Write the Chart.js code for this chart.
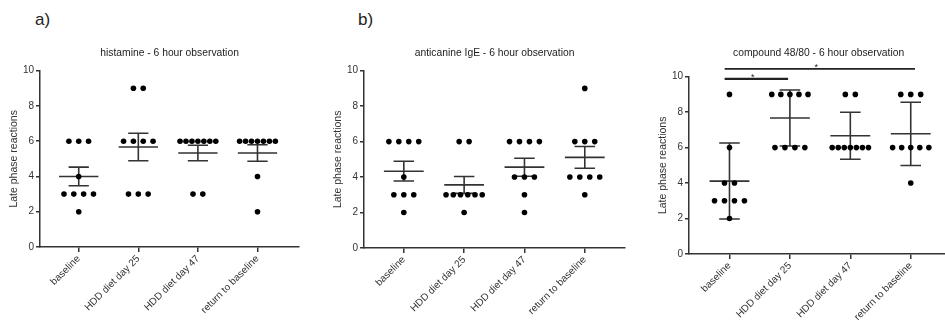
<!DOCTYPE html>
<html><head><meta charset="utf-8">
<script src="https://cdn.jsdelivr.net/npm/chart.js@4.4.1/dist/chart.umd.min.js"></script>
<style>
html,body{margin:0;padding:0;width:945px;height:320px;overflow:hidden;background:#fff;font-family:"Liberation Sans",Arial,sans-serif}
.p{position:absolute;top:0}
.lab{position:absolute;font-size:17px;color:#222;font-family:"Liberation Sans",Arial,sans-serif}
</style></head><body>
<div class="lab" style="left:35px;top:10px">a)</div>
<div class="lab" style="left:358px;top:10px">b)</div>
<canvas id="c1" class="p" style="left:8px" width="294" height="320"></canvas>
<canvas id="c2" class="p" style="left:332px" width="296" height="320"></canvas>
<canvas id="c3" class="p" style="left:657px" width="294" height="320"></canvas>
<script>
// ---- data ----
const categories = ["baseline", "HDD diet day 25", "HDD diet day 47", "return to baseline"];
const yTicks = [0, 2, 4, 6, 8, 10];
const yAxisTitle = "Late phase reactions";

const histamineTitle = "histamine - 6 hour observation";
const histamineValues = [
  [6, 6, 6, 4, 3, 3, 3, 3, 2],
  [9, 9, 6, 6, 6, 6, 3, 3, 3],
  [6, 6, 6, 6, 6, 6, 6, 3, 3],
  [6, 6, 6, 6, 6, 6, 6, 4, 2]
];
const histamineMean = [4.00, 5.67, 5.33, 5.33];
const histamineErrLow = [3.47, 4.89, 4.89, 4.86];
const histamineErrHigh = [4.53, 6.45, 5.77, 5.80];

const igeTitle = "anticanine IgE - 6 hour observation";
const igeValues = [
  [6, 6, 6, 6, 4, 3, 3, 3, 2],
  [6, 6, 3, 3, 3, 3, 3, 3, 2],
  [6, 6, 6, 6, 4, 4, 4, 3, 2],
  [9, 6, 6, 6, 4, 4, 4, 4, 3]
];
const igeMean = [4.33, 3.56, 4.56, 5.11];
const igeErrLow = [3.78, 3.08, 4.05, 4.50];
const igeErrHigh = [4.89, 4.03, 5.06, 5.72];

const compoundTitle = "compound 48/80 - 6 hour observation";
const compoundValues = [
  [9, 6, 4, 4, 3, 3, 3, 3, 2],
  [9, 9, 9, 9, 9, 6, 6, 6, 6],
  [9, 9, 6, 6, 6, 6, 6, 6, 6],
  [9, 9, 9, 6, 6, 6, 6, 6, 4]
];
const compoundMean = [4.11, 7.67, 6.67, 6.78];
const compoundErrLow = [1.97, 6.09, 5.34, 4.99];
const compoundErrHigh = [6.26, 9.25, 7.99, 8.56];
const compoundSignificance = [ { from: 0, to: 3, label: "*" }, { from: 0, to: 1, label: "*" } ];

// ---- helpers ----
const INK = '#333';
const FAM = '"Liberation Sans", Arial, sans-serif';
function swarm(values) {
  const pts = [];
  values.forEach((vals, i) => {
    const groups = new Map();
    vals.forEach(v => groups.set(v, (groups.get(v) || 0) + 1));
    for (const [v, n] of groups) {
      const step = Math.min(0.165, 0.6 / Math.max(n - 1, 1));
      for (let k = 0; k < n; k++) pts.push({ x: i + (k - (n - 1) / 2) * step, y: v });
    }
  });
  return pts;
}
function meanSegments(mean) {
  const d = [];
  mean.forEach((m, i) => { d.push({x: i - 0.33, y: m}, {x: i + 0.33, y: m}, {x: i, y: null}); });
  return d;
}
function errSegments(lo, hi) {
  const d = [], c = 0.17;
  lo.forEach((l, i) => {
    const h = hi[i];
    d.push({x: i - c, y: h}, {x: i + c, y: h}, {x: i, y: null});
    d.push({x: i, y: h}, {x: i, y: l}, {x: i, y: null});
    d.push({x: i - c, y: l}, {x: i + c, y: l}, {x: i, y: null});
  });
  return d;
}

const starPlugin = {
  id: 'stars',
  afterDatasetsDraw(chart, args, opts) {
    if (!opts.items) return;
    const {ctx, scales: {x, y}} = chart;
    ctx.save();
    ctx.fillStyle = '#222';
    ctx.font = '9px ' + FAM;
    ctx.textAlign = 'center';
    ctx.textBaseline = 'bottom';
    opts.items.forEach(it => {
      ctx.fillText(it.label, x.getPixelForValue(it.cx), y.getPixelForValue(it.level) + 3);
    });
    ctx.restore();
  }
};

function makeChart(id, cfg) {
  const datasets = [
    { type: 'scatter', data: swarm(cfg.values), pointRadius: 2.8, pointHoverRadius: 2.8,
      backgroundColor: '#000', borderWidth: 0, order: 1 },
    { type: 'line', data: meanSegments(cfg.mean), borderColor: INK, borderWidth: 1.6,
      pointRadius: 0, spanGaps: false, fill: false, order: 2 },
    { type: 'line', data: errSegments(cfg.lo, cfg.hi), borderColor: INK, borderWidth: 1.6,
      pointRadius: 0, spanGaps: false, fill: false, order: 2 }
  ];
  const stars = [];
  (cfg.sig || []).forEach((s, k) => {
    const lvl = cfg.sigLevels[k];
    const x0 = s.from - 0.08, x1 = s.to + 0.07 - (s.to === 1 ? 0.1 : 0);
    datasets.push({ type: 'line', data: [{x: x0, y: lvl}, {x: x1, y: lvl}], borderColor: '#222',
      borderWidth: cfg.sigWidths[k], pointRadius: 0, clip: false, fill: false });
    stars.push({ label: s.label, cx: (x0 + x1) / 2 - 0.06, level: lvl });
  });
  return new Chart(document.getElementById(id), {
    type: 'scatter',
    data: { datasets },
    plugins: [starPlugin],
    options: {
      responsive: false, animation: false, events: [],
      layout: { padding: 0 },
      plugins: {
        legend: { display: false }, tooltip: { enabled: false },
        title: { display: true, fullSize: false, text: cfg.title, color: '#222',
          font: { size: 10.3, weight: 'normal', family: FAM },
          padding: { top: 46.5, bottom: cfg.titleBottom } },
        stars: { items: stars }
      },
      scales: {
        x: {
          type: 'linear', min: cfg.xmin, max: cfg.xmax,
          afterBuildTicks: s => { s.ticks = categories.map((c, i) => ({ value: i })); },
          afterFit: s => { s.height = cfg.xh; },
          ticks: { callback: v => categories[v], minRotation: 45, maxRotation: 45, autoSkip: false,
            color: '#333', padding: 1, font: { size: 10, family: FAM } },
          grid: { drawOnChartArea: false, drawTicks: true, tickLength: 5, color: INK, lineWidth: 1.5 },
          border: { color: INK, width: 1.5 }
        },
        y: {
          min: 0, max: 10,
          afterBuildTicks: s => { s.ticks = yTicks.map(v => ({ value: v })); },
          afterFit: s => { s.width = 32; },
          ticks: { color: '#333', padding: 2, font: { size: 10, family: FAM } },
          grid: { drawOnChartArea: false, drawTicks: true, tickLength: 4, color: INK, lineWidth: 1.5 },
          border: { color: INK, width: 1.5 },
          title: { display: true, text: yAxisTitle, color: '#333', padding: 0,
            font: { size: 10.5, family: FAM } }
        }
      }
    }
  });
}

makeChart('c1', { title: histamineTitle, values: histamineValues, mean: histamineMean,
  lo: histamineErrLow, hi: histamineErrHigh, xmin: -0.65, xmax: 3.70, xh: 73, titleBottom: 11.8 });
makeChart('c2', { title: igeTitle, values: igeValues, mean: igeMean,
  lo: igeErrLow, hi: igeErrHigh, xmin: -0.66, xmax: 3.67, xh: 72, titleBottom: 11.8 });
makeChart('c3', { title: compoundTitle, values: compoundValues, mean: compoundMean,
  lo: compoundErrLow, hi: compoundErrHigh, xmin: -0.67, xmax: 3.62, xh: 66, titleBottom: 17.8,
  sig: compoundSignificance, sigLevels: [10.44, 9.87], sigWidths: [1.7, 2.3] });
</script>
</body></html>
